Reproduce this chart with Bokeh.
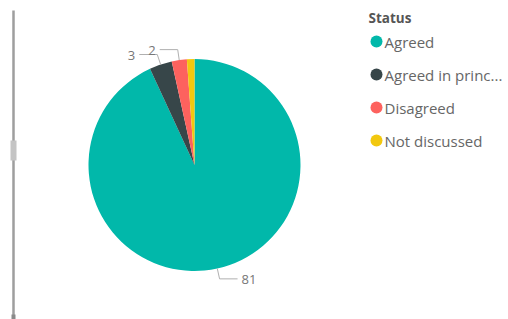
import math
from bokeh.plotting import figure
from bokeh.models import Range1d, ColumnDataSource
from bokeh.core.properties import value
from bokeh.embed import file_html
from bokeh.resources import INLINE

# ---- data ----
categories = ["Agreed", "Agreed in principle", "Disagreed", "Not discussed"]
counts = [81, 3, 2, 1]
legend_labels = ["Agreed", "Agreed in princ...", "Disagreed", "Not discussed"]
colors = ["#01B8AA", "#374649", "#FD625E", "#F2C80F"]
show_label = [True, True, True, False]
legend_title = "Status"

W, H = 508, 319
p = figure(width=W, height=H, x_range=Range1d(0, W), y_range=Range1d(0, H),
           output_backend="svg", toolbar_location=None,
           x_axis_type=None, y_axis_type=None, min_border=0)
p.grid.visible = False
p.outline_line_color = None
p.background_fill_color = "white"

# ---- left decoration (scrollbar of a neighbouring visual) ----
p.segment(x0=13, y0=0, x1=13, y1=309, line_color="#9e9e9e", line_width=2.5)
p.quad(left=10, right=16, bottom=159, top=179, fill_color="#c4c4c4", line_color=None)
p.quad(left=11, right=15, bottom=0, top=5, fill_color="#8a8a8a", line_color=None)

# ---- pie ----
cx, cy, r = 194, 154.5, 106
total = sum(counts)
starts, ends, mids = [], [], []
cum = 0
for c in counts:
    end = math.pi / 2 - 2 * math.pi * cum / total
    start = end - 2 * math.pi * c / total
    starts.append(start)
    ends.append(end)
    mids.append((start + end) / 2)
    cum += c

src = ColumnDataSource(dict(cat=categories, start=starts, end=ends, color=colors))
p.wedge(x=cx, y=cy, radius=r, start_angle="start", end_angle="end",
        direction="anticlock", fill_color="color", line_color=None, source=src)

# ---- data labels with leader lines ----
lx, ly, tx, ty, tt, ta = [], [], [], [], [], []
for c, m, show in zip(counts, mids, show_label):
    if not show:
        continue
    x0, y0 = cx + r * math.cos(m), cy + r * math.sin(m)
    x1, y1 = cx + 1.1 * r * math.cos(m), cy + 1.1 * r * math.sin(m)
    side = 1 if math.cos(m) >= 0 else -1
    x2 = x1 + side * 18
    lx.append([x0, x1, x2])
    ly.append([y0, y1, y1])
    tx.append(x2 + side * 4)
    ty.append(y1 - 1)
    tt.append(str(c))
    ta.append("left" if side > 0 else "right")

p.multi_line(xs=lx, ys=ly, line_color="#b0b0b0", line_width=1)
p.text(x=tx, y=ty, text=tt, text_align=ta, text_baseline="middle",
       text_font=value("Open Sans"), text_font_size="13px", text_color="#777777")

# ---- legend ----
p.text(x=[368], y=[302], text=[legend_title], text_baseline="middle",
       text_font=value("Open Sans"), text_font_size="13.5px",
       text_font_style="bold", text_color="#555555")
leg_y = [278 - 33 * i for i in range(len(categories))]
p.scatter(x=[376] * len(categories), y=leg_y, size=12, marker="circle",
          fill_color=colors, line_color=None)
p.text(x=[384] * len(categories), y=leg_y, text=legend_labels, text_baseline="middle",
       text_font=value("Open Sans"), text_font_size="15px", text_color="#666666")

open("out.html", "w").write(file_html(p, INLINE))
